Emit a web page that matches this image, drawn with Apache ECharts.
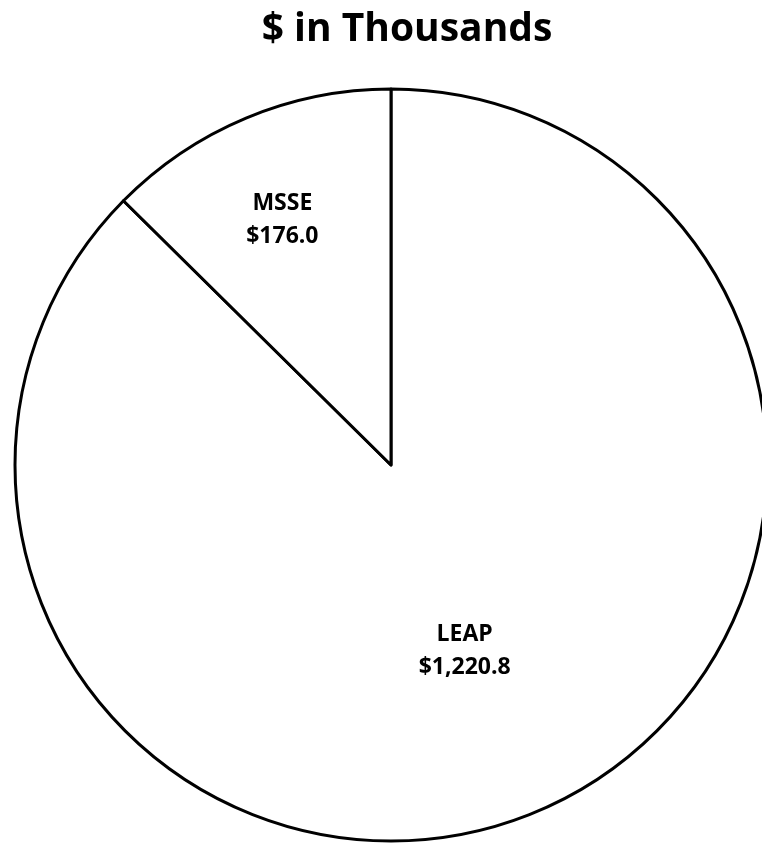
<!DOCTYPE html>
<html>
<head>
<meta charset="utf-8">
<script src="https://cdn.jsdelivr.net/npm/echarts@6/dist/echarts.min.js"></script>
<style>
  html, body { margin: 0; padding: 0; background: #fff; }
  #main { width: 762px; height: 843px; }
</style>
</head>
<body>
<div id="main"></div>
<script>
// values in $ thousands, clockwise from 12 o'clock
const categories = ['LEAP', 'MSSE'];
const amounts = [1220.8, 176.0];

const chartDom = document.getElementById('main');
const myChart = echarts.init(chartDom);

const fmt = v => '$' + v.toLocaleString('en-US', { minimumFractionDigits: 1, maximumFractionDigits: 1 });

// nudge the inside labels to where the original put them
const labelNudge = { LEAP: [0, 10], MSSE: [-35, -69] };

const option = {
  backgroundColor: '#fff',
  title: {
    text: '$ in Thousands',
    left: 402,
    textAlign: 'center',
    top: 5,
    textStyle: {
      fontFamily: 'Open Sans',
      fontWeight: 'bold',
      fontSize: 39,
      color: '#000'
    }
  },
  series: [
    {
      type: 'pie',
      center: [391, 465],
      radius: 376,
      startAngle: 90,
      clockwise: true,
      silent: true,
      animation: false,
      itemStyle: {
        color: '#fff',
        borderColor: '#000',
        borderWidth: 3
      },
      label: {
        position: 'inside',
        formatter: p => p.name + '\n' + fmt(p.value),
        fontFamily: 'Open Sans',
        fontWeight: 'bold',
        fontSize: 23,
        lineHeight: 33,
        color: '#000'
      },
      labelLine: { show: false },
      labelLayout: params => {
        const n = labelNudge[categories[params.dataIndex]];
        return { dx: n[0], dy: n[1] };
      },
      data: categories.map((c, i) => ({ name: c, value: amounts[i] }))
    }
  ]
};

myChart.setOption(option);
</script>
</body>
</html>
